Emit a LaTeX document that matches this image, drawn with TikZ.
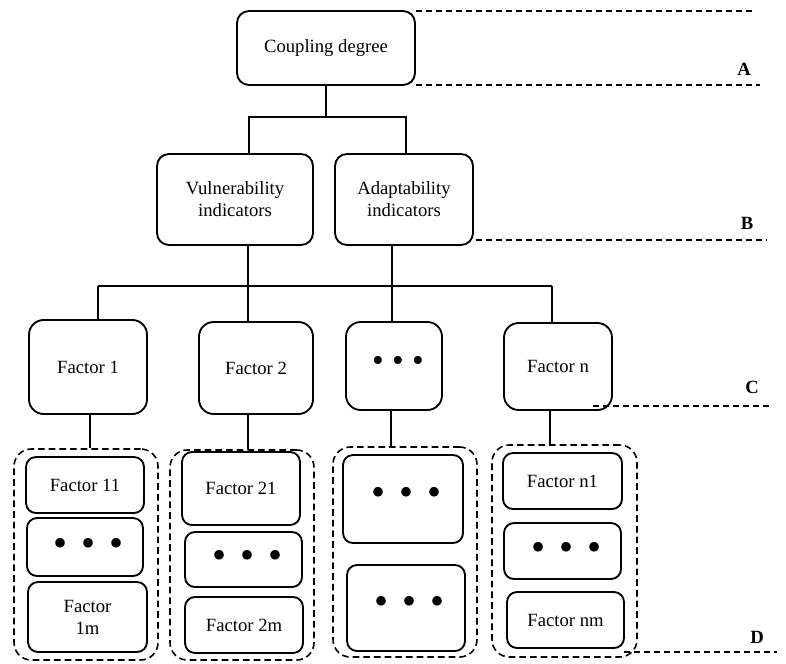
\documentclass[tikz,border=0pt]{standalone}
\usepackage{fontspec}
\setmainfont{Liberation Serif}
\newcommand{\rowdots}[2]{{\fontsize{#1}{#1}\selectfont\hspace*{6pt}•\hspace{#2}•\hspace{#2}•}}

\begin{document}
\begin{tikzpicture}[x=0.75pt,y=0.75pt,yscale=-1,
    font=\fontsize{14}{16.5}\selectfont,
    box/.style={draw, line width=1.4pt, rounded corners=#1, align=center, inner sep=0pt},
    box/.default=9pt,
    grp/.style={draw, line width=1.2pt, dash pattern=on 5pt off 3pt, rounded corners=13pt, inner sep=0pt},
    sz/.style n args={2}{minimum width=#1*0.75pt, minimum height=#2*0.75pt},
    link/.style={line width=1.1pt},
    guide/.style={line width=1.2pt, dash pattern=on 4.5pt off 3pt},
    lbl/.style={font=\fontsize{14}{16}\selectfont\bfseries}]
        \useasboundingbox (0,0) rectangle (786,664);

        %Rounded Rect: top level
        \node [box, sz={178}{74}] (cd) at (326,48) {Coupling degree};
        %Rounded Rect: indicators
        \node [box, sz={156}{91}] (vul) at (235,199.5) {Vulnerability\\indicators};
        \node [box, sz={138}{91}] (ada) at (404,199.5) {Adaptability\\indicators};
        %Rounded Rect: factors
        \node [box=11pt, sz={118}{94}] (f1) at (88,367) {Factor 1};
        \node [box=11pt, sz={114}{92}] (f2) at (256,368) {Factor 2};
        \node [box=11pt, sz={96}{88}] (f3) at (394,366) {\raisebox{2.5pt}{\rowdots{25}{6.3pt}}};
        \node [box=11pt, sz={108}{87}] (fn) at (558,366.5) {Factor n};

        %Dashed groups
        \node [grp, sz={144}{211}] (g1) at (86,554.5) {};
        \node [grp, sz={144}{210}] (g2) at (242,555) {};
        \node [grp, sz={144}{210}] (g3) at (405,552) {};
        \node [grp, sz={145}{212}] (g4) at (564.5,551) {};

        %Rounded Rect: sub factors
        \node [box=7.5pt, sz={118}{56}] (a11) at (85,485) {Factor 11};
        \node [box=7.5pt, sz={116}{58}] (a12) at (85,547) {\rowdots{30}{10.5pt}};
        \node [box=7.5pt, sz={119}{70}] (a1m) at (87.5,617) {Factor\\1m};
        \node [box=7.5pt, sz={118}{73}] (a21) at (241,488.5) {Factor 21};
        \node [box=7.5pt, sz={117}{55}] (a22) at (243.5,559.5) {\rowdots{30}{10.5pt}};
        \node [box=7.5pt, sz={118}{56}] (a2m) at (244,625) {Factor 2m};
        \node [box=7.5pt, sz={120}{88}] (a31) at (403,499) {\raisebox{4.5pt}{\rowdots{30}{10.5pt}}};
        \node [box=7.5pt, sz={118}{86}] (a32) at (406,608) {\raisebox{4.5pt}{\rowdots{30}{10.5pt}}};
        \node [box=7.5pt, sz={119}{56}] (an1) at (562.5,481) {Factor n1};
        \node [box=7.5pt, sz={117}{56}] (an2) at (562.5,551) {\rowdots{30}{10.5pt}};
        \node [box=7.5pt, sz={117}{56}] (anm) at (565.5,620) {Factor nm};

        %Junctions
        \coordinate (ja) at (249,117);
        \coordinate (jb) at (406,117);
        \coordinate (jv) at (248,286);
        \coordinate (jd) at (392,286);
        \coordinate (jl) at (98,286);
        \coordinate (jr) at (552,286);
        \coordinate (s1) at (90,0);
        \coordinate (s2) at (248,0);
        \coordinate (s3) at (391,0);
        \coordinate (s4) at (550,0);

        %Straight Lines
        \draw [link] (cd.south) -- (cd.south |- ja);
        \draw [link] (ja |- vul.north) -- (ja) -- (jb) -- (jb |- ada.north);
        \draw [link] (jv |- vul.south) -- (jv |- f2.north);
        \draw [link] (jd |- ada.south) -- (jd |- f3.north);
        \draw [link] (jl) -- (jr);
        \draw [link] (jl) -- (jl |- f1.north);
        \draw [link] (jr) -- (jr |- fn.north);
        \draw [link] (s1 |- f1.south) -- (s1 |- g1.north);
        \draw [link] (s2 |- f2.south) -- (s2 |- g2.north);
        \draw [link] (s3 |- f3.south) -- (s3 |- g3.north);
        \draw [link] (s4 |- fn.south) -- (s4 |- g4.north);

        %Dashed level lines
        \coordinate (e1) at (753,11);
        \coordinate (e2) at (760,85);
        \coordinate (e3) at (766,240);
        \coordinate (e4) at (770,406);
        \coordinate (e5) at (777,652);
        \draw [guide] (e1 -| cd.east) -- (e1);
        \draw [guide] (e2 -| cd.east) -- (e2);
        \draw [guide] (e3 -| ada.east) ++(2,0) -- (e3);
        \draw [guide] (e4 -| fn.east) ++(-20,0) -- (e4);
        \draw [guide] (e5 -| g4.east) ++(-14,0) -- (e5);

        % Text Node
        \node [lbl] (la) at (744,69) {A};
        \node [lbl] (lb) at (747,223) {B};
        \node [lbl] (lc) at (752,387) {C};
        \node [lbl] (ld) at (757,637) {D};

\end{tikzpicture}
\end{document}
